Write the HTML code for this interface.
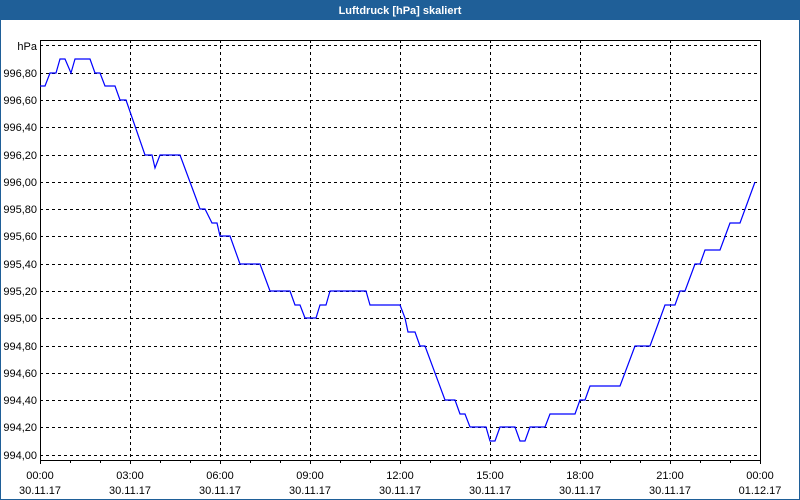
<!DOCTYPE html>
<html><head><meta charset="utf-8"><style>
html,body{margin:0;padding:0;background:#fff}
svg{display:block}
text{font-family:"Liberation Sans",sans-serif;font-size:11px;fill:#000}
</style></head><body>
<svg width="800" height="500" viewBox="0 0 800 500" xmlns="http://www.w3.org/2000/svg">
<rect x="0" y="0" width="800" height="500" fill="#1f5f98"/>
<rect x="1" y="20" width="798" height="479" fill="#fff"/>
<text x="400" y="14" text-anchor="middle" style="font-weight:bold;fill:#fff;font-size:11px">Luftdruck [hPa] skaliert</text>
<g stroke="#000" stroke-width="1" stroke-dasharray="3,3" shape-rendering="crispEdges">
<line x1="40" x2="760" y1="45.5" y2="45.5"/>
<line x1="40" x2="760" y1="73.5" y2="73.5"/>
<line x1="40" x2="760" y1="100.5" y2="100.5"/>
<line x1="40" x2="760" y1="127.5" y2="127.5"/>
<line x1="40" x2="760" y1="155.5" y2="155.5"/>
<line x1="40" x2="760" y1="182.5" y2="182.5"/>
<line x1="40" x2="760" y1="209.5" y2="209.5"/>
<line x1="40" x2="760" y1="236.5" y2="236.5"/>
<line x1="40" x2="760" y1="264.5" y2="264.5"/>
<line x1="40" x2="760" y1="291.5" y2="291.5"/>
<line x1="40" x2="760" y1="318.5" y2="318.5"/>
<line x1="40" x2="760" y1="346.5" y2="346.5"/>
<line x1="40" x2="760" y1="373.5" y2="373.5"/>
<line x1="40" x2="760" y1="400.5" y2="400.5"/>
<line x1="40" x2="760" y1="427.5" y2="427.5"/>
<line x1="40" x2="760" y1="455.5" y2="455.5"/>
<line x1="130.5" x2="130.5" y1="40" y2="460"/>
<line x1="220.5" x2="220.5" y1="40" y2="460"/>
<line x1="310.5" x2="310.5" y1="40" y2="460"/>
<line x1="400.5" x2="400.5" y1="40" y2="460"/>
<line x1="490.5" x2="490.5" y1="40" y2="460"/>
<line x1="580.5" x2="580.5" y1="40" y2="460"/>
<line x1="670.5" x2="670.5" y1="40" y2="460"/>
</g>
<g stroke="#000" stroke-width="1" shape-rendering="crispEdges" fill="none">
<rect x="40.5" y="40.5" width="720" height="420"/>
<path d="M40.5 460v4M70.5 460v3M100.5 460v3M130.5 460v4M160.5 460v3M190.5 460v3M220.5 460v4M250.5 460v3M280.5 460v3M310.5 460v4M340.5 460v3M370.5 460v3M400.5 460v4M430.5 460v3M460.5 460v3M490.5 460v4M520.5 460v3M550.5 460v3M580.5 460v4M610.5 460v3M640.5 460v3M670.5 460v4M700.5 460v3M730.5 460v3M760.5 460v4"/>
</g>
<polyline fill="none" stroke="#0000ff" stroke-width="1.2" points="40,86 45,86 50,73 56,73 60,59 65,59 71,73 75,59 90,59 95,73 100,73 105,86 115,86 120,100 126,100 145,155 152,155 155,168 160,155 180,155 200,209 205,209 212,223 217,223 220,236 230,236 240,264 260,264 270,291 290,291 295,305 300,305 305,318 316,318 320,305 326,305 330,291 366,291 370,305 400,305 405,318 408,332 415,332 420,346 425,346 445,400 455,400 460,414 465,414 470,427 486,427 490,441 495,441 500,427 515,427 520,441 525,441 530,427 545,427 550,414 575,414 580,400 585,400 590,386 620,386 635,346 650,346 665,305 675,305 680,291 685,291 695,264 700,264 705,250 720,250 730,223 740,223 755,182"/>
<g text-anchor="end">
<text x="37" y="50">hPa</text>
<text x="37" y="77">996,80</text>
<text x="37" y="104">996,60</text>
<text x="37" y="131">996,40</text>
<text x="37" y="159">996,20</text>
<text x="37" y="186">996,00</text>
<text x="37" y="213">995,80</text>
<text x="37" y="240">995,60</text>
<text x="37" y="268">995,40</text>
<text x="37" y="295">995,20</text>
<text x="37" y="322">995,00</text>
<text x="37" y="350">994,80</text>
<text x="37" y="377">994,60</text>
<text x="37" y="404">994,40</text>
<text x="37" y="431">994,20</text>
<text x="37" y="459">994,00</text>
</g>
<g text-anchor="middle">
<text x="40" y="479">00:00</text><text x="40" y="494">30.11.17</text>
<text x="130" y="479">03:00</text><text x="130" y="494">30.11.17</text>
<text x="220" y="479">06:00</text><text x="220" y="494">30.11.17</text>
<text x="310" y="479">09:00</text><text x="310" y="494">30.11.17</text>
<text x="400" y="479">12:00</text><text x="400" y="494">30.11.17</text>
<text x="490" y="479">15:00</text><text x="490" y="494">30.11.17</text>
<text x="580" y="479">18:00</text><text x="580" y="494">30.11.17</text>
<text x="670" y="479">21:00</text><text x="670" y="494">30.11.17</text>
<text x="760" y="479">00:00</text><text x="760" y="494">01.12.17</text>
</g>
</svg>
</body></html>
